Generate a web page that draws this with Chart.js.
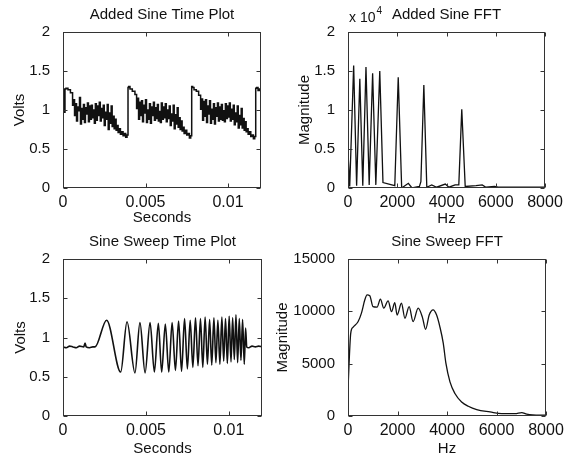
<!DOCTYPE html>
<html>
<head>
<meta charset="utf-8">
<script src="https://cdn.jsdelivr.net/npm/chart.js@4"></script>
<style>
  html, body { margin: 0; padding: 0; background: #fff; }
  #wrap { position: relative; width: 572px; height: 458px; background: #fff; overflow: hidden; }
  canvas { position: absolute; }
</style>
</head>
<body>
<div id="wrap">
  <canvas id="c1" width="286" height="229" style="left:0;top:0"></canvas>
  <canvas id="c2" width="286" height="229" style="left:286px;top:0"></canvas>
  <canvas id="c3" width="286" height="229" style="left:0;top:229px"></canvas>
  <canvas id="c4" width="302" height="229" style="left:270px;top:229px"></canvas>
</div>
<script>
// ---------------- DATA ----------------
// Added Sine Time Plot (seconds, volts)
const addedSineTime = [
  0.00000,0.00008,0.00012,0.00018,0.00030,0.00045,0.00058,0.00064,0.00070,0.00076,0.00082,0.00088,0.00094,0.00100,0.00106,0.00112,0.00118,0.00124,0.00130,0.00136,0.00142,0.00148,0.00154,0.00160,0.00166,0.00172,0.00178,0.00184,0.00190,0.00196,0.00202,0.00208,0.00214,0.00220,0.00226,0.00232,0.00238,0.00244,0.00250,0.00256,0.00262,0.00268,0.00274,0.00280,0.00286,0.00292,0.00298,0.00304,0.00310,0.00316,0.00322,0.00328,0.00334,0.00340,0.00348,0.00356,0.00364,0.00372,0.00380,0.00388,0.00394,0.00398,
  0.00406,0.00420,0.00436,0.00446,0.00452,0.00458,0.00464,0.00470,0.00476,0.00482,0.00488,0.00494,0.00500,0.00506,0.00512,0.00518,0.00524,0.00530,0.00536,0.00542,0.00548,0.00554,0.00560,0.00566,0.00572,0.00578,0.00584,0.00590,0.00596,0.00602,0.00608,0.00614,0.00620,0.00626,0.00632,0.00638,0.00644,0.00650,0.00656,0.00662,0.00668,0.00674,0.00680,0.00686,0.00692,0.00698,0.00704,0.00710,0.00716,0.00722,0.00728,0.00734,0.00742,0.00750,0.00758,0.00766,0.00774,0.00780,0.00786,
  0.00794,0.00808,0.00822,0.00834,0.00840,0.00846,0.00852,0.00858,0.00864,0.00870,0.00876,0.00882,0.00888,0.00894,0.00900,0.00906,0.00912,0.00918,0.00924,0.00930,0.00936,0.00942,0.00948,0.00954,0.00960,0.00966,0.00972,0.00978,0.00984,0.00990,0.00996,0.01002,0.01008,0.01014,0.01020,0.01026,0.01032,0.01038,0.01044,0.01050,0.01056,0.01062,0.01068,0.01074,0.01080,0.01086,0.01092,0.01098,0.01104,0.01110,0.01116,0.01122,0.01130,0.01138,0.01146,0.01154,0.01162,0.01168,0.01174,0.01182,0.01190,0.01200
];
const addedSineVolts = [
  1.25,1.27,0.97,1.27,1.28,1.26,1.22,1.06,1.13,0.93,1.08,0.86,1.04,0.99,1.16,0.82,1.02,0.88,1.07,0.84,1.03,0.95,1.09,0.85,1.05,0.88,1.06,0.90,1.00,0.83,1.08,0.87,1.05,0.93,1.10,0.86,1.02,0.90,1.06,0.80,0.97,0.88,1.07,0.75,0.96,0.83,1.05,0.79,0.92,0.76,0.88,0.74,0.80,0.71,0.76,0.69,0.72,0.67,0.70,0.65,0.68,1.29,
  1.30,1.27,1.24,1.20,1.02,1.15,0.88,1.10,0.93,1.12,0.85,1.06,0.96,1.13,0.84,1.00,0.88,1.08,0.83,1.04,0.93,1.10,0.87,1.03,0.89,1.07,0.86,0.98,0.84,1.09,0.88,1.04,0.90,1.08,0.85,1.00,0.89,1.05,0.80,0.95,0.86,1.06,0.76,0.94,0.82,1.03,0.78,0.90,0.75,0.86,0.73,0.78,0.70,0.74,0.68,0.70,0.64,0.67,1.30,
  1.29,1.26,1.24,1.19,1.01,1.14,0.87,1.11,0.92,1.13,0.84,1.05,0.95,1.12,0.83,1.01,0.88,1.08,0.82,1.03,0.92,1.09,0.86,1.04,0.88,1.07,0.87,0.99,0.85,1.08,0.89,1.05,0.91,1.09,0.86,1.01,0.88,1.06,0.81,0.96,0.85,1.05,0.77,0.93,0.81,1.02,0.77,0.89,0.74,0.85,0.72,0.76,0.69,0.72,0.66,0.68,0.63,0.66,1.28,1.29,1.25,1.27
];

// Added Sine FFT (Hz, magnitude)
const addedSineHz = [0,70,230,350,480,600,730,860,1000,1130,1290,1420,1900,2040,2180,2450,2600,2900,2960,3080,3200,3400,3600,3950,4100,4350,4500,4620,4760,5200,5450,5600,5950,6100,8000];
const addedSineMag = [4500,200,15700,300,14000,300,15500,400,14700,400,15000,700,300,14200,0,600,0,200,800,13200,100,400,100,500,100,400,400,10100,200,300,400,100,200,100,100];

// Sine Sweep Time Plot (seconds, volts)
const sweepTime = [
  0,0.0002,0.0004,0.0006,0.0008,0.0010,0.00125,0.00133,0.0014,0.0016,0.0018,0.00193,
  0.00263,0.00348,0.00386,0.00434,0.00464,0.00495,0.00525,0.00551,0.00575,0.00595,
  0.00617,0.00638,0.00658,0.00678,0.00697,0.00715,0.00733,0.00750,0.00767,0.00783,0.00799,0.00814,0.00829,0.00843,0.00857,0.00871,0.00884,0.00897,0.00910,0.00922,0.00934,0.00946,0.00958,0.00969,0.00980,0.00991,0.01002,0.01013,0.01023,0.01033,0.01043,0.01053,0.01063,0.01073,0.01083,0.01093,0.01101,
  0.01108,0.01120,0.01140,0.01160,0.01180,0.01200
];
const sweepVolts = [
  0.88,0.87,0.89,0.88,0.87,0.89,0.88,0.93,0.88,0.87,0.88,0.88,
  1.22,0.56,1.20,0.55,1.19,0.55,1.19,0.56,1.18,0.56,
  1.17,0.56,1.19,0.58,1.21,0.57,1.24,0.60,1.22,0.62,1.25,0.64,1.24,0.62,1.26,0.66,1.23,0.65,1.25,0.68,1.22,0.66,1.26,0.70,1.24,0.67,1.27,0.69,1.25,0.72,1.29,0.68,1.24,0.71,1.23,0.66,1.12,
  0.88,0.87,0.89,0.88,0.89,0.88
];

// Sine Sweep FFT (Hz, magnitude)
const sweepHz = [0,110,200,405,540,680,770,880,1010,1175,1310,1445,1620,1760,1890,1985,2160,2300,2470,2630,2835,3010,3135,3280,3440,3580,3715,3850,3957,4120,4320,4590,4860,5200,5740,6210,6750,7020,7220,7760,8000];
const sweepMag = [2600,7900,8470,9000,9800,11100,11570,11500,10450,10400,11160,10300,11000,9970,10830,9650,10770,9340,10450,9010,10300,9400,8280,9650,10140,9650,8500,6940,5020,3260,2150,1340,930,610,390,230,230,330,170,70,70];

// Tick values / labels
const timeTicks = [0, 0.005, 0.01];
const timeTickLabels = ['0', '0.005', '0.01'];
const hzTicks = [0, 2000, 4000, 6000, 8000];
const hzTickLabels = ['0', '2000', '4000', '6000', '8000'];
const voltTicks = [0, 0.5, 1, 1.5, 2];
const voltTickLabels = ['0', '0.5', '1', '1.5', '2'];
const magATicks = [0, 5000, 10000, 15000, 20000];
const magATickLabels = ['0', '0.5', '1', '1.5', '2'];
const magBTicks = [0, 5000, 10000, 15000];
const magBTickLabels = ['0', '5000', '10000', '15000'];

// ---------------- DRAWING ----------------
const FONT = "'Liberation Sans', Arial, Helvetica, sans-serif";
const INK = '#111';

const boxTicks = {
  id: 'boxTicks',
  afterDraw(chart) {
    const {ctx, chartArea: a, scales: {x, y}} = chart;
    ctx.save();
    ctx.strokeStyle = '#333';
    ctx.lineWidth = 1;
    const l = Math.round(a.left) + 0.5, r = Math.round(a.right) - 0.5;
    const t = Math.round(a.top) + 0.5, b = Math.round(a.bottom) - 0.5;
    ctx.strokeRect(l, t, r - l, b - t);
    const L = 4;
    ctx.beginPath();
    x.ticks.forEach(tk => {
      const px = Math.round(x.getPixelForValue(tk.value)) + 0.5;
      ctx.moveTo(px, b); ctx.lineTo(px, b - L);
      ctx.moveTo(px, t); ctx.lineTo(px, t + L);
    });
    y.ticks.forEach(tk => {
      const py = Math.round(y.getPixelForValue(tk.value)) + 0.5;
      ctx.moveTo(l, py); ctx.lineTo(l + L, py);
      ctx.moveTo(r, py); ctx.lineTo(r - L, py);
    });
    ctx.stroke();
    ctx.restore();
  }
};

// Title centred over the plot box (MATLAB style) and optional "x 10^4" exponent label
const plotTitle = {
  id: 'plotTitle',
  afterDraw(chart, args, opts) {
    const {ctx, chartArea: a} = chart;
    ctx.save();
    ctx.fillStyle = INK;
    ctx.textBaseline = 'middle';
    if (opts.text) {
      ctx.textAlign = 'center';
      ctx.font = '15px ' + FONT;
      ctx.fillText(opts.text, (a.left + a.right) / 2, a.top - opts.offset);
    }
    if (opts.exp) {
      ctx.textAlign = 'left';
      ctx.font = '14px ' + FONT;
      ctx.fillText(opts.exp, a.left + 1, a.top - 14);
      const w = ctx.measureText(opts.exp).width;
      ctx.font = '10px ' + FONT;
      ctx.fillText(opts.sup, a.left + 2 + w, a.top - 21);
    }
    ctx.restore();
  }
};

function makeChart(id, c) {
  const pts = c.xs.map((x, i) => ({x: x, y: c.ys[i]}));
  const W = c.W, H = 229;
  return new Chart(document.getElementById(id), {
    type: 'line',
    data: { datasets: [{
      data: pts,
      borderColor: INK,
      borderWidth: c.lw || 1.3,
      pointRadius: 0,
      fill: false,
      tension: 0,
      stepped: c.stepped || false,
      cubicInterpolationMode: c.smooth ? 'monotone' : 'default'
    }] },
    options: {
      responsive: false,
      animation: false,
      devicePixelRatio: 1,
      layout: { padding: { left: 0, right: W - c.area[2], top: c.area[1], bottom: 0 } },
      plugins: {
        legend: { display: false },
        tooltip: { enabled: false },
        title: { display: false },
        plotTitle: { text: c.title, offset: c.titleOffset, exp: c.exp, sup: c.sup }
      },
      scales: {
        x: {
          type: 'linear', min: c.xMin, max: c.xMax,
          afterBuildTicks: s => { s.ticks = c.xTicks.map(v => ({value: v})); },
          afterFit: s => { s.height = H - c.area[3]; },
          grid: { display: false }, border: { display: false },
          ticks: { color: INK, padding: -3, maxRotation: 0, autoSkip: false,
            font: { family: FONT, size: 16 },
            callback: (v, i) => c.xLabels[i] },
          title: { display: true, text: c.xTitle, color: INK,
            font: { family: FONT, size: 15 }, padding: { top: 0, bottom: c.xTitlePad } }
        },
        y: {
          type: 'linear', min: c.yMin, max: c.yMax,
          afterBuildTicks: s => { s.ticks = c.yTicks.map(v => ({value: v})); },
          afterFit: s => { s.width = c.area[0]; },
          grid: { display: false }, border: { display: false },
          ticks: { color: INK, padding: 5, autoSkip: false,
            font: { family: FONT, size: 15 },
            callback: (v, i) => c.yLabels[i] },
          title: { display: true, text: c.yTitle, color: INK,
            font: { family: FONT, size: 15 }, padding: { top: c.yTitlePad, bottom: 0 } }
        }
      }
    },
    plugins: [boxTicks, plotTitle]
  });
}

makeChart('c1', {
  W: 286, area: [63, 32, 261, 188],
  xs: addedSineTime, ys: addedSineVolts, lw: 1.5, stepped: 'after',
  title: 'Added Sine Time Plot', titleOffset: 17,
  xMin: 0, xMax: 0.012, xTicks: timeTicks, xLabels: timeTickLabels, xTitle: 'Seconds',
  yMin: 0, yMax: 2, yTicks: voltTicks, yLabels: voltTickLabels, yTitle: 'Volts',
  xTitlePad: 2, yTitlePad: 11
});
makeChart('c2', {
  W: 286, area: [62, 32, 259, 188],
  xs: addedSineHz, ys: addedSineMag, lw: 1.3,
  title: 'Added Sine FFT', titleOffset: 17, exp: 'x 10', sup: '4',
  xMin: 0, xMax: 8000, xTicks: hzTicks, xLabels: hzTickLabels, xTitle: 'Hz',
  yMin: 0, yMax: 20000, yTicks: magATicks, yLabels: magATickLabels, yTitle: 'Magnitude',
  xTitlePad: 1, yTitlePad: 10
});
makeChart('c3', {
  W: 286, area: [63, 30, 262, 187],
  xs: sweepTime, ys: sweepVolts, lw: 1.6, smooth: true,
  title: 'Sine Sweep Time Plot', titleOffset: 17,
  xMin: 0, xMax: 0.012, xTicks: timeTicks, xLabels: timeTickLabels, xTitle: 'Seconds',
  yMin: 0, yMax: 2, yTicks: voltTicks, yLabels: voltTickLabels, yTitle: 'Volts',
  xTitlePad: 0, yTitlePad: 12
});
makeChart('c4', {
  W: 302, area: [78, 30, 276, 187],
  xs: sweepHz, ys: sweepMag, lw: 1.3, smooth: true,
  title: 'Sine Sweep FFT', titleOffset: 17,
  xMin: 0, xMax: 8000, xTicks: hzTicks, xLabels: hzTickLabels, xTitle: 'Hz',
  yMin: 0, yMax: 15000, yTicks: magBTicks, yLabels: magBTickLabels, yTitle: 'Magnitude',
  xTitlePad: 0, yTitlePad: 4
});
</script>
</body>
</html>
